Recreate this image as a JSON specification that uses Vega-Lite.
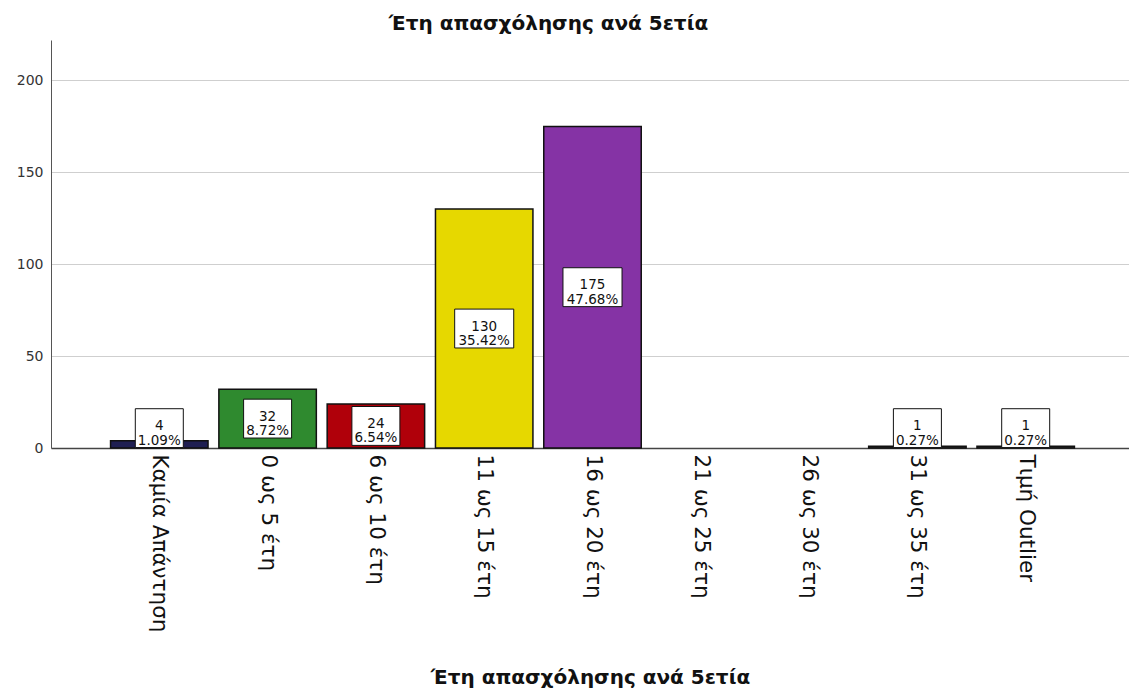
{
  "$schema": "https://vega.github.io/schema/vega-lite/v6.json",
  "autosize": {"type": "none"},
  "padding": {"left": 51, "top": 40, "right": 0, "bottom": 247},
  "width": 1083,
  "height": 408,
  "background": "white",
  "title": {
    "text": "Έτη απασχόλησης ανά 5ετία",
    "font": "DejaVu Sans",
    "fontSize": 20,
    "fontWeight": "bold",
    "color": "#111",
    "anchor": "middle",
    "dx": -44,
    "offset": 6
  },
  "config": {
    "view": {"stroke": null},
    "font": "DejaVu Sans"
  },
  "data": {
    "values": [
      {"cat": "Καμία Απάντηση", "count": 4, "pct": "1.09%"},
      {"cat": "0 ως 5 έτη", "count": 32, "pct": "8.72%"},
      {"cat": "6 ως 10 έτη", "count": 24, "pct": "6.54%"},
      {"cat": "11 ως 15 έτη", "count": 130, "pct": "35.42%"},
      {"cat": "16 ως 20 έτη", "count": 175, "pct": "47.68%"},
      {"cat": "21 ως 25 έτη", "count": 0, "pct": "0.00%"},
      {"cat": "26 ως 30 έτη", "count": 0, "pct": "0.00%"},
      {"cat": "31 ως 35 έτη", "count": 1, "pct": "0.27%"},
      {"cat": "Τιμή Outlier", "count": 1, "pct": "0.27%"}
    ]
  },
  "encoding": {
    "x": {
      "field": "cat",
      "type": "nominal",
      "sort": null,
      "scale": {"paddingInner": 0.1, "paddingOuter": 0.55},
      "axis": {
        "title": "Έτη απασχόλησης ανά 5ετία",
        "titleFont": "DejaVu Sans",
        "titleFontSize": 20,
        "titleFontWeight": "bold",
        "titleColor": "#111",
        "titleBaseline": "middle",
        "titleY": 229,
        "titleX": 539,
        "labelAngle": 90,
        "labelAlign": "left",
        "labelBaseline": "middle",
        "labelFontSize": 21.5,
        "labelColor": "#111",
        "labelPadding": 6,
        "ticks": false,
        "domainColor": "#444",
        "domainWidth": 1.5,
        "grid": false
      }
    }
  },
  "layer": [
    {
      "mark": {"type": "bar", "stroke": "#111", "strokeWidth": 1.5},
      "encoding": {
        "y": {
          "field": "count",
          "type": "quantitative",
          "scale": {"domain": [0, 222], "nice": false},
          "axis": {
            "title": null,
            "values": [0, 50, 100, 150, 200],
            "labelFontSize": 14,
            "labelColor": "#333",
            "labelPadding": 8,
            "ticks": false,
            "domainColor": "#555",
            "gridColor": "#cfcfcf",
            "gridWidth": 1
          }
        },
        "strokeOpacity": {
          "condition": {"test": "datum.count == 0", "value": 0},
          "value": 1
        },
        "color": {
          "field": "cat",
          "type": "nominal",
          "legend": null,
          "scale": {
            "domain": ["Καμία Απάντηση", "0 ως 5 έτη", "6 ως 10 έτη", "11 ως 15 έτη", "16 ως 20 έτη", "21 ως 25 έτη", "26 ως 30 έτη", "31 ως 35 έτη", "Τιμή Outlier"],
            "range": ["#1f1f52", "#2f8a2f", "#b0000a", "#e6d800", "#8533a5", "#888888", "#888888", "#333333", "#333333"]
          }
        }
      }
    },
    {
      "transform": [
        {"filter": "datum.count > 0"},
        {"calculate": "max(datum.count / 2, 10.8)", "as": "ypos"}
      ],
      "mark": {"type": "point", "filled": true, "fill": "white", "stroke": "#111", "strokeWidth": 1, "opacity": 1, "size": 2304},
      "encoding": {
        "y": {"field": "ypos", "type": "quantitative"},
        "shape": {
          "condition": {"test": "datum.count >= 100", "value": "M-1.23,-0.81H1.23V0.81H-1.23Z"},
          "value": "M-1,-0.81H1V0.81H-1Z"
        }
      }
    },
    {
      "transform": [
        {"filter": "datum.count > 0"},
        {"calculate": "max(datum.count / 2, 10.8)", "as": "ypos"},
        {"calculate": "datum.count + '\\n' + datum.pct", "as": "label"}
      ],
      "mark": {"type": "text", "align": "center", "baseline": "middle", "lineBreak": "\n", "fontSize": 13.5, "lineHeight": 14.5, "dy": -2, "color": "#111", "font": "DejaVu Sans"},
      "encoding": {
        "y": {"field": "ypos", "type": "quantitative"},
        "text": {"field": "label"}
      }
    }
  ]
}
